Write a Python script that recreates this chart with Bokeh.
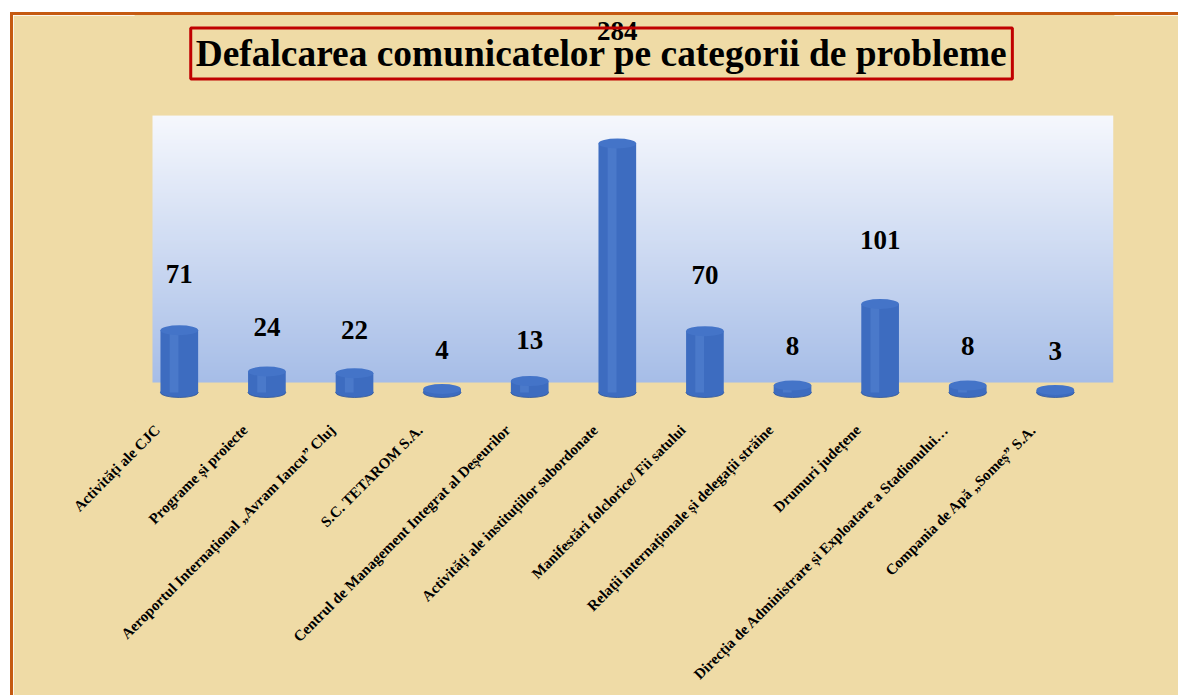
import numpy as np
from bokeh.plotting import figure
from bokeh.models import (Range1d, FixedTicker, ColumnDataSource,
                          LabelSet, Label)
from bokeh.embed import file_html
from bokeh.resources import INLINE

# ---- data ----
categories = [
    "Activități ale CJC",
    "Programe și proiecte",
    "Aeroportul Internațional „Avram Iancu” Cluj",
    "S.C. TETAROM S.A.",
    "Centrul de Management Integrat al Deșeurilor",
    "Activități ale instituțiilor subordonate",
    "Manifestări folclorice/ Fii satului",
    "Relații internaționale și delegații străine",
    "Drumuri județene",
    "Direcția de Administrare și Exploatare a Stadionului…",
    "Compania de Apă „Someș” S.A.",
]
values = [71, 24, 22, 4, 13, 284, 70, 8, 101, 8, 3]
title_text = "Defalcarea comunicatelor pe categorii de probleme"

# ---- styling ----
PARCH = "#EFDBA6"
BAR = "#3D6CC0"
BAR_HI = "#6A98E2"
FONT = "Liberation Serif"

n = len(categories)
xs = np.arange(n) + 0.5
labels_y = [1.3 * v + 43 for v in values]

src = ColumnDataSource(dict(x=xs, top=values, zero=[0] * n,
                            ly=labels_y, txt=[str(v) for v in values],
                            xh=xs - 0.06))

XMAX, YMIN, YMAX = 11.164, -9.1, 429.9
p = figure(width=1168, height=683, output_backend="svg", toolbar_location=None,
           x_range=Range1d(0, XMAX), y_range=Range1d(YMIN, YMAX),
           y_axis_location=None,
           min_border_left=122, min_border_right=68, min_border_top=0,
           min_border_bottom=298)
p.margin = (12, 0, 0, 10)
p.styles = {"border-left": "3px solid #C55A11", "border-top": "3px solid #C55A11"}
p.border_fill_color = PARCH
p.background_fill_color = PARCH
p.outline_line_color = PARCH
p.outline_line_width = 2
p.grid.visible = False

# gradient back wall (decorative image)
rows = 300
g0, g1 = 11.4, 315.8
c_top = np.array([0xF6, 0xF8, 0xFD], dtype=float)
c_bot = np.array([0xA6, 0xBD, 0xE7], dtype=float)
img = np.empty((rows, 1), dtype=np.uint32)
view = img.view(dtype=np.uint8).reshape((rows, 1, 4))
for r in range(rows):
    t = r / (rows - 1)
    c = c_bot + (c_top - c_bot) * t
    view[r, 0, 0:3] = np.round(c).astype(np.uint8)
    view[r, 0, 3] = 255
p.image_rgba(image=[img], x=0.194, y=g0, dw=XMAX - 0.194, dh=g1 - g0, level="image")

# cylinders
p.ellipse(x="x", y="zero", width=0.43, height=10, height_units="screen",
          source=src, fill_color=BAR, line_color="#2E5599", line_width=0.8)
p.vbar(x="x", top="top", bottom="zero", width=0.43, source=src,
       fill_color=BAR, line_color=None)
p.vbar(x="xh", top="top", bottom="zero", width=0.1, source=src,
       fill_color=BAR_HI, fill_alpha=0.3, line_color=None)
p.ellipse(x="x", y="top", width=0.43, height=10, height_units="screen",
          source=src, fill_color="#4474C8", line_color=None)

# value labels
p.add_layout(LabelSet(x="x", y="ly", text="txt", source=src,
                      text_font=FONT, text_font_style="bold",
                      text_font_size="27px", text_color="black",
                      text_align="center", text_baseline="middle"))

# title
p.add_layout(Label(x=5.32, y=386.5, text=title_text, text_font=FONT,
                   text_font_style="bold", text_font_size="37.4px",
                   text_color="black", text_align="center",
                   text_baseline="middle", border_line_color="#C00000",
                   border_line_width=3, padding=5))

# x axis (tick positions nudged left so the slanted labels end just before each bar)
ax = p.xaxis[0]
ticks = [float(x - 0.25) for x in xs]
ax.ticker = FixedTicker(ticks=ticks)
ax.major_label_overrides = {t: c for t, c in zip(ticks, categories)}
ax.major_label_orientation = np.pi / 4
ax.major_label_text_font = FONT
ax.major_label_text_font_style = "bold"
ax.major_label_text_font_size = "15px"
ax.major_label_text_color = "black"
ax.major_label_standoff = 21
ax.axis_line_color = None
ax.major_tick_line_color = None
ax.minor_tick_line_color = None

open("out.html", "w").write(file_html(p, INLINE))
